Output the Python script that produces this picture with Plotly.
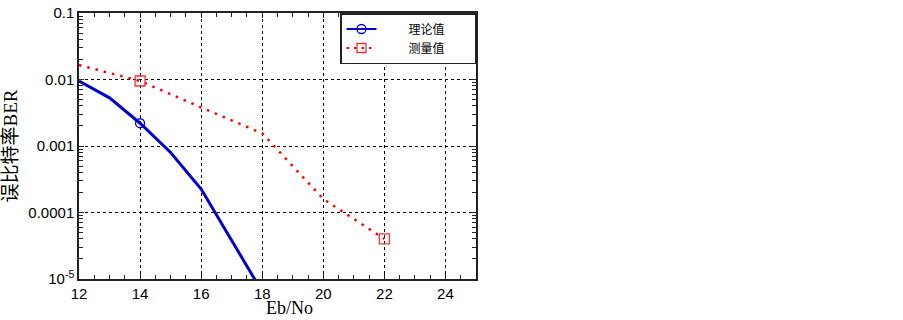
import plotly.graph_objects as go

# ---- data ----
ebno_theory = [12, 13, 14, 15, 16, 17, 18]
ber_theory = [0.0095, 0.0053, 0.0022, 0.0008, 0.000225, 3.8e-5, 6.4e-6]
theory_marker_idx = [2]          # marker shown at Eb/No = 14

ebno_meas = [12, 14, 16, 18, 20, 22]
ber_meas = [0.0165, 0.0095, 0.0038, 0.00155, 0.00016, 4.0e-5]
meas_marker_idx = [1, 5]         # markers shown at Eb/No = 14 and 22

name_theory = "理论值"
name_meas = "测量值"
x_title = "Eb/No"
y_title = "误比特率BER"
y_tickvals = [1e-5, 1e-4, 1e-3, 1e-2, 1e-1]
y_ticktext = ["10<sup>-5</sup>", "0.0001", "0.001", "0.01", "0.1"]
x_tickvals = [12, 14, 16, 18, 20, 22, 24]

BLUE = "#0000CD"
RED = "#FF0000"
RED_MK = "#FF3030"
PAD = "\u00a0" * 10
TAIL = "\u00a0" * 9

fig = go.Figure()

# lines
fig.add_trace(go.Scatter(x=ebno_theory, y=ber_theory, mode="lines",
                         line=dict(color=BLUE, width=3), showlegend=False))
fig.add_trace(go.Scatter(x=ebno_meas, y=ber_meas, mode="lines",
                         line=dict(color=RED, width=2.5, dash="2.5px,6px"),
                         showlegend=False))
# sparse markers
fig.add_trace(go.Scatter(x=[ebno_theory[i] for i in theory_marker_idx],
                         y=[ber_theory[i] for i in theory_marker_idx],
                         mode="markers",
                         marker=dict(symbol="circle-open", size=9, color=BLUE,
                                     line=dict(width=1.3)),
                         showlegend=False))
fig.add_trace(go.Scatter(x=[ebno_meas[i] for i in meas_marker_idx],
                         y=[ber_meas[i] for i in meas_marker_idx],
                         mode="markers",
                         marker=dict(symbol="square-open", size=10, color=RED_MK,
                                     line=dict(width=1.3)),
                         showlegend=False))
# legend entries
fig.add_trace(go.Scatter(x=[None], y=[None], mode="lines+markers",
                         name=PAD + name_theory + TAIL,
                         line=dict(color=BLUE, width=2),
                         marker=dict(symbol="circle-open", size=9, color=BLUE,
                                     line=dict(width=1.3))))
fig.add_trace(go.Scatter(x=[None], y=[None], mode="lines+markers",
                         name=PAD + name_meas + TAIL,
                         line=dict(color=RED, width=2, dash="2.5px,5px"),
                         marker=dict(symbol="square-open", size=9, color=RED_MK,
                                     line=dict(width=1.3))))

axis_common = dict(
    showline=True, linecolor="#222222", linewidth=1.5, mirror="ticks",
    ticks="inside", ticklen=5, tickcolor="#222222", tickwidth=1,
    showgrid=True, gridcolor="#000000", gridwidth=1, griddash="dot",
    zeroline=False, automargin=False, ticklabeloverflow="allow",
    tickfont=dict(family="Liberation Sans, Arial", size=15, color="#000000"),
)

fig.update_xaxes(**axis_common, range=[12, 25], tickvals=x_tickvals,
                 minor=dict(dtick=0.5, ticks="inside", ticklen=4,
                            tickcolor="#222222", showgrid=False))
fig.update_yaxes(**axis_common, type="log", range=[-5, -1],
                 tickvals=y_tickvals, ticktext=y_ticktext,
                 minor=dict(dtick="D1", ticks="inside", ticklen=4,
                            tickcolor="#222222", showgrid=False),
                 title=dict(text=y_title, standoff=6,
                            font=dict(family="Liberation Serif, Noto Sans CJK SC",
                                      size=19, color="#000000")))

# x-axis title placed as in the reference (slightly right of centre, near the bottom)
fig.add_annotation(text=x_title, xref="paper", yref="paper", x=0.531, y=0,
                   xanchor="center", yanchor="bottom", yshift=-40,
                   showarrow=False, borderpad=0,
                   font=dict(family="Liberation Serif, Times New Roman",
                             size=18, color="#000000"))

fig.update_layout(
    width=903, height=320,
    margin=dict(l=79, r=427, t=13, b=41),
    plot_bgcolor="white", paper_bgcolor="white",
    legend=dict(x=1, xanchor="right", y=1, yanchor="top",
                bgcolor="white", bordercolor="#222222", borderwidth=1.5,
                font=dict(family="Noto Sans CJK SC", size=12, color="#000000"),
                tracegroupgap=0, itemwidth=30),
)

# remove the default page margin so the figure sits at the window's corner
fig.write_html("out.html",
               config={"displayModeBar": False},
               post_script="document.body.style.margin='0';")
